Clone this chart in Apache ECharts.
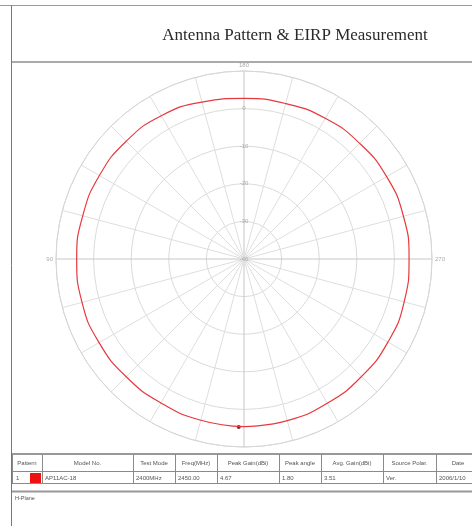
<!DOCTYPE html>
<html>
<head>
<meta charset="utf-8">
<script src="https://cdn.jsdelivr.net/npm/echarts@6/dist/echarts.min.js"></script>
<style>
  html, body { margin: 0; padding: 0; background: #fff; }
  #main { width: 472px; height: 526px; }
</style>
</head>
<body>
<div id="main"></div>
<script>
// H-plane gain (dBi) read every 15 deg, 0 = bottom, 90 = left, 180 = top
const angles = [0, 15, 30, 45, 60, 75, 90, 105, 120, 135, 150, 165,
  180, 195, 210, 225, 240, 255, 270, 285, 300, 315, 330, 345]
const gains = [4.6, 4.4, 4.2, 4.3, 4.5, 4.6, 4.5, 4.4, 4.4, 4.3, 4.0, 3.2,
  2.7, 2.8, 3.2, 3.5, 3.8, 3.9, 3.9, 4.1, 4.2, 4.2, 4.3, 4.5]
const peak = [4.67, 1.8]
const shownAngles = [90, 180, 270]
const headers = ['Pattern', 'Model No.', 'Test Mode', 'Freq(MHz)', 'Peak Gain(dBi)',
  'Peak angle', 'Avg. Gain(dBi)', 'Source Polar.', 'Date']
const rowValues = ['1', 'AP11AC-18', '2400MHz', '2450.00', '4.67', '1.80', '3.51', 'Ver.', '2006/1/10']

// chart puts 0 at the top, so shift everything by 180
const toPlot = a => (a + 180) % 360
const fromPlot = a => (a + 180) % 360

let pattern = angles.map((a, i) => [gains[i], toPlot(a)])
pattern.push(pattern[0])

// frame + table drawn as graphics
const gray = '#8a8a8a'
const txt = '#555'
const cols = [12, 42, 133, 175, 217, 279, 321, 383, 436, 480]
let g = []
const line = (x1, y1, x2, y2, w, c) => g.push({
  type: 'line', shape: { x1, y1, x2, y2 }, style: { stroke: c || gray, lineWidth: w || 1 }, silent: true,
})
const text = (t, x, y, align, size) => g.push({
  type: 'text', x, y,
  style: { text: t, fill: txt, font: (size || 6) + 'px "Liberation Sans"', align: align || 'center', verticalAlign: 'middle' },
})

line(0, 5.5, 472, 5.5, 1, '#9a9a9a')
line(11.5, 5, 11.5, 526, 1, '#777')
line(12, 62, 472, 62, 2, '#aaa')
line(12, 454, 472, 454, 2, '#999')
line(12, 471.5, 472, 471.5)
line(12, 483.5, 472, 483.5)
line(12, 491.5, 472, 491.5, 2, '#999')
cols.forEach(x => line(x + 0.5, 454, x + 0.5, 484))
headers.forEach((h, i) => text(h, (cols[i] + cols[i + 1]) / 2, 463))
text(rowValues[0], 16, 478, 'left')
g.push({ type: 'rect', shape: { x: 30, y: 473, width: 11, height: 10 }, style: { fill: '#ee1111' } })
rowValues.slice(1).forEach((v, i) => text(v, cols[i + 1] + 3, 478, 'left'))
text('H-Plane', 15, 498, 'left', 5.5)

let chart = echarts.init(document.getElementById('main'))
chart.setOption({
  animation: false,
  title: {
    text: 'Antenna Pattern & EIRP Measurement',
    left: 290,
    top: 22,
    textAlign: 'center',
    textStyle: { fontFamily: 'Liberation Serif', fontWeight: 'normal', fontSize: 17, color: '#2a2a2a' },
  },
  polar: { center: [244, 259], radius: 188 },
  angleAxis: {
    type: 'value',
    min: 0,
    max: 360,
    interval: 15,
    startAngle: 90,
    clockwise: true,
    axisLine: { lineStyle: { color: '#d6d6d6', width: 1 } },
    axisTick: { show: false },
    axisLabel: {
      margin: 3,
      fontSize: 6,
      color: '#aaa',
      formatter: v => shownAngles.includes(fromPlot(v)) ? String(fromPlot(v)) : '',
    },
    splitLine: {
      lineStyle: {
        color: ['#c6c6c6', '#dedede', '#dedede', '#dedede', '#dedede', '#dedede'],
        width: 1,
      },
    },
  },
  radiusAxis: {
    type: 'value',
    min: -40,
    max: 10,
    interval: 10,
    axisLine: { show: false },
    axisTick: { show: false },
    axisLabel: {
      margin: 0,
      align: 'center',
      fontSize: 6,
      color: '#aaa',
      showMaxLabel: false,
    },
    splitLine: { lineStyle: { color: '#dadada', width: 1 } },
  },
  series: [{
    type: 'line',
    coordinateSystem: 'polar',
    data: pattern,
    smooth: true,
    showSymbol: false,
    lineStyle: { color: '#e8383d', width: 1.2 },
  }, {
    type: 'scatter',
    coordinateSystem: 'polar',
    data: [[peak[0], toPlot(peak[1])]],
    symbolSize: 4,
    itemStyle: { color: '#3a0a0a' },
  }],
  graphic: g,
})
</script>
</body>
</html>
